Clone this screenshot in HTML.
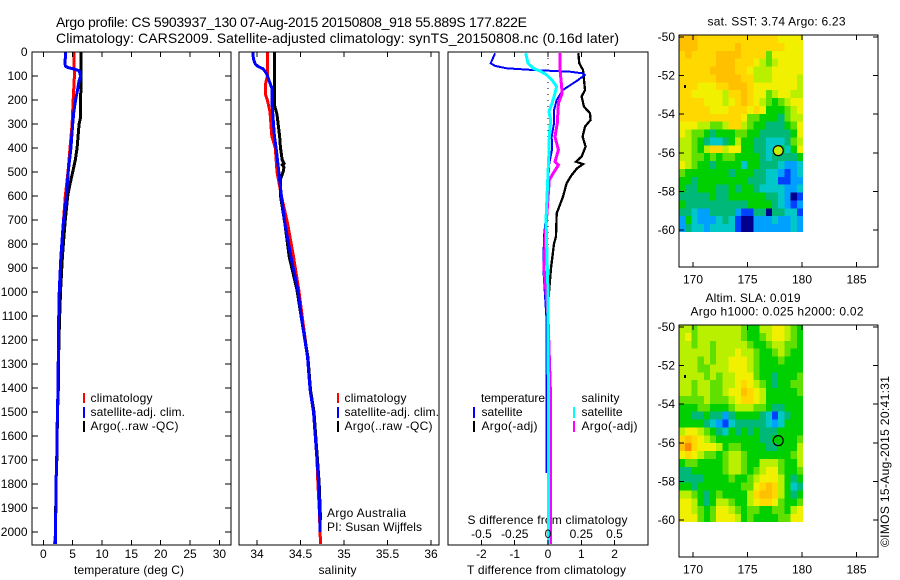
<!DOCTYPE html>
<html lang="en">
<head>
<meta charset="utf-8">
<title>Argo profile</title>
<style>
html,body{margin:0;padding:0;background:#fff;}
svg{display:block;font-family:"Liberation Sans",Arial,sans-serif;font-size:12px;fill:#000;}
</style>
</head>
<body>
<svg id="fig" xmlns="http://www.w3.org/2000/svg" width="900" height="580" viewBox="0 0 900 580">
<rect width="900" height="580" fill="#fff"/>
<text x="56" y="27" font-size="14" textLength="471">Argo profile: CS 5903937_130 07-Aug-2015 20150808_918 55.889S 177.822E</text>
<text x="56" y="43" font-size="14" textLength="563">Climatology: CARS2009. Satellite-adjusted climatology: synTS_20150808.nc (0.16d later)</text>
<text x="707.5" y="25.5" textLength="138">sat. SST: 3.74  Argo: 6.23</text>
<text x="705.5" y="302" textLength="95">Altim. SLA: 0.019</text>
<text x="690.5" y="315.5" textLength="173">Argo h1000: 0.025 h2000: 0.02</text>
<text transform="translate(889,547) rotate(-90)" textLength="171">©IMOS 15-Aug-2015 20:41:31</text>
<text x="327" y="517" textLength="79">Argo Australia</text>
<text x="327" y="531" textLength="95">PI: Susan Wijffels</text>
<text x="74" y="574" textLength="110">temperature (deg C)</text>
<text x="318.5" y="574" textLength="38">salinity</text>
<text x="467" y="574" textLength="159">T difference from climatology</text>
<text x="467.5" y="524" textLength="160">S difference from climatology</text>
</svg>
<script>
/* ---------- depth ticks ---------- */
const depthTicks = [0,100,200,300,400,500,600,700,800,900,1000,1100,1200,1300,1400,1500,1600,1700,1800,1900,2000];

/* ---------- temperature panel ---------- */
const tempTicks = [0,5,10,15,20,25,30];
const tempClimDepth = [0,100,200,300,400,500,600,713,853,992,1130,1270,1408,1500,1700,1800,2000,2030,2050];
const tempClimValue = [5.2,5.3,5.1,4.9,4.55,4.2,3.75,3.4,3.0,2.73,2.6,2.56,2.5,2.4,2.28,2.16,2.1,2.0,1.9];
const tempSatDepth = [0,50,60,65,72,78,100,120,150,200,250,300,400,500,600,713,853,992,1130,1270,1408,1500,1700,1800,2000,2050];
const tempSatValue = [3.8,3.7,3.8,4.25,5.4,6.1,6.37,6.1,5.9,5.5,5.2,5.0,4.7,4.25,3.95,3.4,3.0,2.73,2.6,2.56,2.5,2.4,2.28,2.16,2.1,2.1];
const tempArgoDepth = [0,100,200,270,300,400,450,500,550,600,713,853,992,1130,1270,1408,1500,1700,1800,1950];
const tempArgoValue = [6.4,6.4,6.37,6.37,6.1,5.75,5.45,5.0,4.55,4.15,3.7,3.25,2.95,2.75,2.6,2.55,2.42,2.3,2.16,2.1];

/* ---------- salinity panel ---------- */
const salTicks = [34,34.5,35,35.5,36];
const salClimDepth = [0,100,130,180,200,250,350,400,500,600,713,853,992,1130,1270,1408,1500,1700,1800,1900,2000,2050];
const salClimValue = [34.12,34.12,34.1,34.1,34.12,34.15,34.17,34.21,34.23,34.28,34.35,34.42,34.48,34.53,34.58,34.61,34.65,34.69,34.7,34.715,34.725,34.73];
const salSatDepth = [0,30,50,60,70,90,110,150,200,300,350,400,500,600,713,853,992,1130,1270,1408,1500,1600,1700,1800,1900,2000];
const salSatValue = [33.95,33.96,33.98,34.01,34.07,34.11,34.13,34.17,34.17,34.19,34.2,34.22,34.25,34.28,34.32,34.39,34.47,34.52,34.58,34.61,34.65,34.67,34.69,34.71,34.72,34.725];
const salArgoDepth = [0,220,260,350,400,450,465,470,480,500,530,600,713,853,992,1130,1270,1408,1500,1600,1700,1800,1900,1950];
const salArgoValue = [34.2,34.2,34.23,34.26,34.27,34.29,34.31,34.29,34.31,34.3,34.27,34.27,34.32,34.37,34.46,34.52,34.585,34.615,34.655,34.675,34.695,34.715,34.725,34.73];

/* ---------- difference panel ---------- */
const tDiffTicks = [-2,-1,0,1,2];
const sDiffTicks = [-0.5,-0.25,0,0.25,0.5];
const sDiffTickLabels = ['-0.5','-0.25','0','0.25','0.5'];
const tDiffSatDepth = [5,47,58,68,75,82,89,96,117,158,200,242,297,353,408,464,533,642,767,900,1100,1400,1754];
const tDiffSatValue = [-1.59,-1.72,-1.59,-1.24,-0.45,0.66,1.05,1.1,0.9,0.45,0.26,0.18,0.18,0.11,0.12,0.04,0.01,-0.03,-0.12,-0.14,-0.05,-0.04,-0.04];
const tDiffArgoDepth = [5,47,75,117,158,186,228,255,283,311,353,394,436,457,467,485,513,547,603,672,767,800,900,1000,1100,1180];
const tDiffArgoValue = [0.91,0.94,1.05,1.08,1.11,1.01,1.08,1.26,1.28,1.11,1.04,1.13,1.01,0.84,1.05,0.87,0.71,0.56,0.45,0.26,0.24,0.18,0.09,0.03,-0.03,-0.03];
const sDiffSatDepth = [5,47,68,82,96,117,144,178,214,249,283,353,422,700,1000,1400,2050];
const sDiffSatValue = [-0.168,-0.15,-0.11,-0.05,-0.01,0.03,0.065,0.05,0.03,0.007,0.02,0.01,0.007,-0.015,0.0,0.002,0.002];
const sDiffArgoDepth = [5,75,130,172,214,297,353,408,457,471,505,533,767,900,1100,1400,2050];
const sDiffArgoValue = [0.09,0.09,0.1,0.107,0.078,0.07,0.053,0.078,0.053,0.078,0.04,0.01,-0.02,-0.03,0.0,0.017,0.017];

/* ---------- maps ---------- */
const lonTicks = [170,175,180,185];
const latTicks = [-50,-52,-54,-56,-58,-60];
const argoLon = [177.82];
const argoLat = [-55.889];
const sstGrid = [
[10,10,10,9,9,9,9,9,9,9,9,9,9,9,9,9,8,8,8,8],
[10,10,10,9,9,9,9,9,9,10,9,9,9,9,9,9,9,8,8,8],
[9,10,9,9,9,9,10,10,10,10,9,9,9,9,6,8,8,8,8,8],
[9,9,9,9,9,9,10,10,10,9,9,9,8,7,6,7,8,8,8,8],
[9,9,9,9,9,10,10,10,10,9,9,8,7,7,7,8,8,8,8,8],
[9,9,9,9,9,9,10,10,10,10,9,9,7,7,7,8,8,8,8,7],
[9,9,9,8,8,8,9,9,10,10,10,9,8,8,8,8,8,8,8,7],
[9,9,8,8,8,8,8,7,9,9,10,9,8,8,6,7,8,8,7,7],
[9,9,9,9,8,8,8,7,8,9,10,9,8,7,6,5,6,7,8,8],
[9,9,9,9,9,8,8,8,9,9,9,8,9,8,5,5,5,6,7,8],
[9,9,9,9,9,9,9,9,9,9,8,6,6,5,5,5,4,6,7,7],
[8,8,8,7,7,6,6,7,9,9,7,6,5,5,4,4,4,5,6,8],
[8,7,6,6,5,4,5,5,5,6,6,5,5,4,4,4,4,4,5,8],
[7,7,6,5,4,3,3,4,5,7,5,5,4,4,3,3,3,4,6,7],
[7,7,6,5,7,9,9,7,8,8,5,5,4,4,3,3,5,3,5,8],
[7,7,6,6,5,6,5,6,6,5,5,5,5,4,3,4,4,4,4,5],
[8,7,6,5,5,4,5,5,5,5,3,5,5,4,4,4,3,2,2,3],
[6,5,5,5,5,5,5,5,4,5,5,5,4,4,3,3,2,1,2,3],
[5,5,4,5,5,5,5,5,5,5,5,4,4,4,3,3,1,1,2,2],
[5,4,4,5,5,5,4,4,5,4,5,5,4,3,3,3,3,2,2,3],
[4,4,4,4,4,5,4,4,5,5,5,5,5,5,4,4,3,2,0,1],
[5,4,4,4,4,4,4,4,4,4,4,5,5,5,5,4,3,2,1,2],
[4,4,3,2,2,4,4,4,4,2,1,1,4,4,0,4,4,3,3,1],
[2,5,3,2,2,2,3,4,3,1,0,0,2,2,2,3,2,2,3,2],
[2,4,3,3,2,3,3,3,3,1,0,0,2,2,2,2,2,2,3,2]
];
const slaGrid = [
[7,7,6,7,7,7,7,7,7,7,6,5,5,7,7,8,8,7,6,5],
[7,8,6,7,7,7,7,7,7,7,6,5,5,6,7,8,8,7,6,5],
[7,7,6,7,7,6,7,7,7,7,7,6,5,5,6,7,7,6,6,5],
[7,7,7,7,7,6,7,7,7,8,7,7,6,5,5,6,7,6,5,5],
[7,7,7,6,7,6,7,7,8,8,8,7,6,5,5,5,6,5,5,5],
[7,7,7,6,6,7,7,7,8,8,8,7,6,5,5,5,5,5,5,5],
[7,7,7,7,6,7,6,7,7,8,8,8,6,5,5,4,5,5,5,6],
[7,7,6,7,7,6,6,7,7,8,9,8,7,6,5,4,5,5,6,6],
[7,7,6,7,7,6,6,7,8,8,10,9,8,7,5,5,5,5,5,6],
[6,6,6,6,7,6,6,6,7,8,9,9,8,7,5,5,5,5,5,5],
[5,5,5,6,6,5,5,5,6,7,7,7,6,6,5,4,4,5,5,5],
[5,5,4,4,5,4,4,2,4,5,5,5,5,4,3,1,3,4,5,5],
[5,5,5,5,4,3,2,1,3,4,4,4,4,4,3,2,3,5,5,5],
[7,8,8,7,6,5,4,3,5,4,5,4,5,4,4,4,5,5,5,5],
[9,10,9,8,7,6,5,5,5,5,5,5,5,4,4,5,5,5,5,6],
[10,11,9,8,8,8,7,5,6,6,5,5,5,5,4,4,5,5,5,7],
[8,9,8,7,6,6,5,6,7,7,6,5,5,5,5,5,5,5,6,7],
[5,6,6,5,5,5,5,6,7,7,6,5,5,7,7,7,6,5,5,7],
[4,4,5,5,5,5,5,6,7,7,6,5,6,7,8,8,6,5,5,6],
[4,4,4,4,5,5,5,5,6,5,5,6,7,8,8,8,7,5,4,5],
[5,5,4,5,5,5,5,5,5,5,6,6,8,9,10,9,7,5,3,4],
[7,7,6,5,4,5,6,5,5,5,5,7,9,10,10,9,7,5,4,5],
[8,8,7,5,4,5,7,7,6,5,5,7,8,9,9,8,6,5,5,6],
[8,8,7,6,5,6,8,8,7,6,5,6,6,5,5,6,6,5,7,8],
[8,8,8,6,5,6,8,8,8,7,5,6,5,5,5,5,6,6,8,8]
];

const NS = 'http://www.w3.org/2000/svg';
const fig = document.getElementById('fig');
const palette = ['#00008c','#0040ff','#00a0ff','#00c8c8','#00b878','#00d000','#60e000','#b8f000','#f0f000','#ffd800','#ffc000','#ff8800'];

function make(tag, name, attrs, parent) {
  const el = document.createElementNS(NS, tag);
  
  
  for (const k in attrs) el.setAttribute(k, attrs[k]);
  (parent || fig).appendChild(el);
  return el;
}
function label(name, x, y, str, anchor) {
  const el = make('text', name, {x: x, y: y, 'text-anchor': anchor || 'start'});
  el.textContent = str;
  return el;
}
function seg(name, x1, y1, x2, y2, color, w) {
  return make('line', name, {x1: x1, y1: y1, x2: x2, y2: y2, stroke: color || '#000', 'stroke-width': w || 1, 'shape-rendering': 'crispEdges'});
}

/* axis functions */
const depthY = d => 52 + d * 0.24;
const tempX = t => 43.3 + t * 5.87;
const salX = s => 257 + (s - 34) * 87;
const tDiffX = t => 548 + t * 33.3;
const sDiffX = s => 548 + s * 133;
const lonX = lon => 693 + (lon - 170) * 10.9;
const latY = (lat, top) => top + 2 + (-50 - lat) * 19.3;

function frame(name, x, y, w, h) {
  make('rect', name, {x: x, y: y, width: w, height: h, fill: 'none', stroke: '#000', 'stroke-width': 1.3, 'shape-rendering': 'crispEdges'});
}
function series(name, depths, values, xf, color, w) {
  const pts = depths.map((d, i) => xf(values[i]).toFixed(1) + ',' + depthY(d).toFixed(1)).join(' ');
  make('polyline', name, {points: pts, fill: 'none', stroke: color, 'stroke-width': w, 'shape-rendering': 'crispEdges'});
}
function vTicks(prefix, ticks, xf, top, bottom, len) {
  ticks.forEach(t => {
    seg(prefix + '-top-tick', xf(t), top, xf(t), top + len);
    seg(prefix + '-bottom-tick', xf(t), bottom, xf(t), bottom - len);
  });
}
function legendBar(name, x, y1, y2, color) {
  seg(name, x, y1, x, y2, color, 2.4);
}

/* --- temperature panel --- */
series('temperature-climatology-line', tempClimDepth, tempClimValue, tempX, '#ff0000', 3);
series('temperature-argo-line', tempArgoDepth, tempArgoValue, tempX, '#000000', 3);
series('temperature-satellite-line', tempSatDepth, tempSatValue, tempX, '#0000ff', 3);
frame('temperature-panel', 32, 52, 199, 493);
vTicks('temperature', tempTicks, tempX, 52, 545, 5);
tempTicks.forEach(t => label('temperature-tick-label', tempX(t), 558, String(t), 'middle'));
depthTicks.forEach(d => {
  seg('depth-left-tick', 32, depthY(d), 38, depthY(d));
  seg('depth-right-tick', 225, depthY(d), 231, depthY(d));
  label('depth-tick-label', 27.5, depthY(d) + 4, String(d), 'end');
});

/* --- salinity panel --- */
series('salinity-climatology-line', salClimDepth, salClimValue, salX, '#ff0000', 3);
series('salinity-argo-line', salArgoDepth, salArgoValue, salX, '#000000', 3);
series('salinity-satellite-line', salSatDepth, salSatValue, salX, '#0000ff', 3);
frame('salinity-panel', 239, 52, 200, 493);
vTicks('salinity', salTicks, salX, 52, 545, 5);
salTicks.forEach(s => label('salinity-tick-label', salX(s), 558, String(s), 'middle'));

/* --- difference panel --- */
make('line', 'zero-difference-line', {x1: tDiffX(0), y1: 52, x2: tDiffX(0), y2: 545, stroke: '#000', 'stroke-width': 1, 'stroke-dasharray': '1 5', 'shape-rendering': 'crispEdges'});
series('t-difference-argo-line', tDiffArgoDepth, tDiffArgoValue, tDiffX, '#000000', 2.3);
series('t-difference-satellite-line', tDiffSatDepth, tDiffSatValue, tDiffX, '#0000ff', 2);
series('s-difference-argo-line', sDiffArgoDepth, sDiffArgoValue, sDiffX, '#ff00ff', 3);
series('s-difference-satellite-line', sDiffSatDepth, sDiffSatValue, sDiffX, '#00ffff', 3);
frame('difference-panel', 448, 52, 200, 493);
vTicks('t-difference', tDiffTicks, tDiffX, 52, 545, 5);
tDiffTicks.forEach(t => label('t-difference-tick-label', tDiffX(t), 558, String(t), 'middle'));
sDiffTicks.forEach((s, i) => label('s-difference-tick-label', sDiffX(s), 538, sDiffTickLabels[i], 'middle'));

/* --- legends --- */
[[84, 90.5], [338, 344.5]].forEach(pos => {
  legendBar('legend-climatology-swatch', pos[0], 393, 403, '#ff0000');
  legendBar('legend-satellite-swatch', pos[0], 407, 418, '#0000ff');
  legendBar('legend-argo-swatch', pos[0], 421, 432, '#000000');
  label('legend-climatology-label', pos[1], 402, 'climatology').setAttribute('textLength', 62);
  label('legend-satellite-label', pos[1], 416, 'satellite-adj. clim.').setAttribute('textLength', 94.5);
  label('legend-argo-label', pos[1], 430, 'Argo(..raw -QC)').setAttribute('textLength', 88);
});
label('legend-temperature-heading', 481, 402, 'temperature').setAttribute('textLength', 64);
legendBar('legend-t-satellite-swatch', 474, 407, 418, '#0000ff');
label('legend-t-satellite-label', 481.5, 416, 'satellite').setAttribute('textLength', 41);
legendBar('legend-t-argo-swatch', 474, 421, 432, '#000000');
label('legend-t-argo-label', 481.5, 430, 'Argo(-adj)').setAttribute('textLength', 56);
label('legend-salinity-heading', 581.5, 402, 'salinity').setAttribute('textLength', 38);
legendBar('legend-s-satellite-swatch', 574, 407, 418, '#00ffff');
label('legend-s-satellite-label', 581.5, 416, 'satellite').setAttribute('textLength', 41);
legendBar('legend-s-argo-swatch', 574, 421, 432, '#ff00ff');
label('legend-s-argo-label', 581.5, 430, 'Argo(-adj)').setAttribute('textLength', 56);

/* --- maps --- */
const lonStart = 168.72, lonStep = 0.5685, latStart = -49.9, latStep = 0.408;
function drawMap(prefix, grid, top, markerFill) {
  grid.forEach((row, r) => row.forEach((v, c) => {
    const x0 = lonX(lonStart + c * lonStep), x1 = lonX(lonStart + (c + 1) * lonStep);
    const y0 = latY(latStart - r * latStep, top), y1 = latY(latStart - (r + 1) * latStep, top);
    const cell = make('rect', prefix + '-cell', {x: x0, y: y0, width: x1 - x0, height: y1 - y0, fill: palette[v], 'shape-rendering': 'crispEdges'});
    cell.setAttribute('data-value', v);
  }));
  frame(prefix + '-map-frame', 679, top, 199, 232);
  lonTicks.forEach(l => {
    seg(prefix + '-lon-top-tick', lonX(l), top, lonX(l), top + 5);
    seg(prefix + '-lon-bottom-tick', lonX(l), top + 232, lonX(l), top + 227);
    label(prefix + '-lon-tick-label', lonX(l), top + 248.5, String(l), 'middle');
  });
  latTicks.forEach(l => {
    seg(prefix + '-lat-left-tick', 679, latY(l, top), 684, latY(l, top));
    seg(prefix + '-lat-right-tick', 873, latY(l, top), 878, latY(l, top));
    label(prefix + '-lat-tick-label', 675, latY(l, top) + 4, String(l), 'end');
  });
  make('rect', prefix + '-coast-mark', {x: 684, y: top + 50, width: 2, height: 3, fill: '#000', 'shape-rendering': 'crispEdges'});
  make('circle', prefix + '-argo-position', {cx: lonX(argoLon[0]), cy: latY(argoLat[0], top), r: 5, fill: markerFill, stroke: '#000', 'stroke-width': 1.2});
}
drawMap('sst', sstGrid, 35, '#c4ee00');
drawMap('sla', slaGrid, 325, 'none');
</script>
</body>
</html>
